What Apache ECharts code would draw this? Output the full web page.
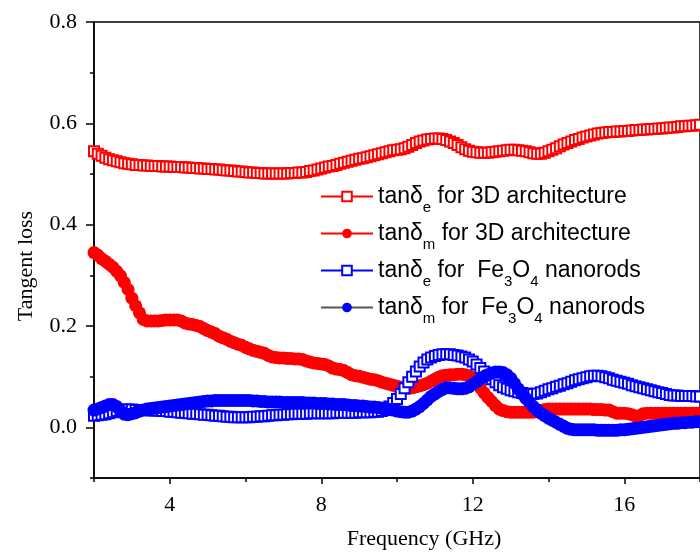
<!DOCTYPE html>
<html>
<head>
<meta charset="utf-8">
<script src="https://cdn.jsdelivr.net/npm/echarts@6/dist/echarts.min.js"></script>
<style>
  html, body { margin: 0; padding: 0; background: #fff; }
  #chart { width: 700px; height: 555px; }
</style>
</head>
<body>
<div id="chart"></div>
<script>
// frequency sampling grid, 2 - 18 GHz in 0.1 GHz steps
const freq = Array.from({ length: 161 }, (_, i) => +(2 + i * 0.1).toFixed(1));

// tan(delta_e) for 3D architecture
const tanE3D = [
  0.545, 0.540, 0.536, 0.532, 0.529, 0.527, 0.525, 0.523, 0.521, 0.520,
  0.519, 0.518, 0.518, 0.517, 0.517, 0.516, 0.516, 0.516, 0.515, 0.515,
  0.515, 0.514, 0.514, 0.514, 0.513, 0.513, 0.512, 0.512, 0.511, 0.511,
  0.510, 0.510, 0.509, 0.509, 0.508, 0.507, 0.507, 0.506, 0.505, 0.505,
  0.504, 0.503, 0.503, 0.502, 0.502, 0.501, 0.501, 0.501, 0.501, 0.501,
  0.501, 0.501, 0.502, 0.502, 0.503, 0.503, 0.504, 0.506, 0.507, 0.509,
  0.511, 0.513, 0.515, 0.516, 0.518, 0.520, 0.522, 0.524, 0.526, 0.528,
  0.530, 0.531, 0.533, 0.535, 0.537, 0.539, 0.541, 0.543, 0.545, 0.547,
  0.548, 0.549, 0.551, 0.554, 0.557, 0.561, 0.564, 0.566, 0.568, 0.569,
  0.570, 0.570, 0.569, 0.567, 0.564, 0.561, 0.557, 0.553, 0.549, 0.546,
  0.544, 0.543, 0.542, 0.542, 0.542, 0.543, 0.544, 0.545, 0.546, 0.547,
  0.548, 0.548, 0.547, 0.546, 0.545, 0.543, 0.541, 0.540, 0.540, 0.542,
  0.545, 0.548, 0.551, 0.555, 0.558, 0.561, 0.564, 0.567, 0.569, 0.572,
  0.574, 0.576, 0.578, 0.580, 0.581, 0.582, 0.583, 0.583, 0.584, 0.584,
  0.585, 0.585, 0.586, 0.587, 0.587, 0.588, 0.588, 0.589, 0.589, 0.590,
  0.590, 0.591, 0.592, 0.592, 0.593, 0.594, 0.594, 0.595, 0.595, 0.596,
  0.597
];

// tan(delta_m) for 3D architecture
const tanM3D = [
  0.345, 0.340, 0.333, 0.328, 0.322, 0.316, 0.308, 0.299, 0.286, 0.272,
  0.255, 0.240, 0.226, 0.213, 0.210, 0.210, 0.210, 0.210, 0.211, 0.212,
  0.212, 0.212, 0.212, 0.210, 0.206, 0.204, 0.203, 0.201, 0.199, 0.195,
  0.191, 0.188, 0.185, 0.180, 0.177, 0.174, 0.170, 0.167, 0.164, 0.162,
  0.158, 0.155, 0.152, 0.150, 0.148, 0.146, 0.142, 0.139, 0.138, 0.137,
  0.137, 0.136, 0.136, 0.135, 0.135, 0.134, 0.131, 0.129, 0.127, 0.126,
  0.125, 0.124, 0.121, 0.117, 0.115, 0.114, 0.112, 0.108, 0.104, 0.102,
  0.101, 0.099, 0.097, 0.095, 0.094, 0.092, 0.089, 0.087, 0.085, 0.083,
  0.081, 0.079, 0.077, 0.077, 0.078, 0.080, 0.082, 0.084, 0.087, 0.091,
  0.095, 0.099, 0.102, 0.103, 0.104, 0.104, 0.105, 0.105, 0.104, 0.102,
  0.096, 0.088, 0.078, 0.068, 0.059, 0.051, 0.043, 0.036, 0.033, 0.031,
  0.030, 0.030, 0.030, 0.030, 0.030, 0.030, 0.030, 0.031, 0.033, 0.035,
  0.036, 0.036, 0.036, 0.036, 0.036, 0.036, 0.036, 0.036, 0.036, 0.036,
  0.036, 0.036, 0.035, 0.035, 0.035, 0.034, 0.034, 0.031, 0.028, 0.028,
  0.028, 0.027, 0.025, 0.022, 0.023, 0.027, 0.028, 0.028, 0.028, 0.028,
  0.028, 0.028, 0.028, 0.028, 0.028, 0.028, 0.028, 0.028, 0.028, 0.028,
  0.028
];

// tan(delta_e) for Fe3O4 nanorods
const tanEFe = [
  0.023, 0.024, 0.025, 0.026, 0.028, 0.030, 0.032, 0.034, 0.035, 0.035,
  0.035, 0.034, 0.034, 0.034, 0.034, 0.033, 0.033, 0.033, 0.032, 0.032,
  0.031, 0.031, 0.030, 0.029, 0.029, 0.028, 0.027, 0.027, 0.026, 0.025,
  0.025, 0.024, 0.023, 0.023, 0.022, 0.021, 0.021, 0.020, 0.020, 0.020,
  0.020, 0.020, 0.021, 0.021, 0.022, 0.022, 0.023, 0.024, 0.024, 0.025,
  0.025, 0.026, 0.026, 0.027, 0.027, 0.027, 0.027, 0.028, 0.028, 0.028,
  0.028, 0.028, 0.028, 0.028, 0.029, 0.029, 0.029, 0.029, 0.029, 0.029,
  0.030, 0.030, 0.030, 0.030, 0.031, 0.031, 0.032, 0.035, 0.041, 0.048,
  0.056, 0.066, 0.077, 0.089, 0.100, 0.110, 0.120, 0.128, 0.134, 0.138,
  0.141, 0.143, 0.144, 0.144, 0.144, 0.143, 0.142, 0.140, 0.138, 0.134,
  0.130, 0.124, 0.117, 0.110, 0.102, 0.095, 0.089, 0.083, 0.079, 0.076,
  0.073, 0.071, 0.069, 0.068, 0.067, 0.066, 0.066, 0.067, 0.069, 0.072,
  0.075, 0.077, 0.080, 0.082, 0.085, 0.087, 0.090, 0.093, 0.095, 0.097,
  0.099, 0.101, 0.102, 0.102, 0.101, 0.099, 0.097, 0.094, 0.092, 0.090,
  0.088, 0.086, 0.083, 0.081, 0.079, 0.077, 0.075, 0.073, 0.071, 0.069,
  0.068, 0.066, 0.064, 0.063, 0.063, 0.062, 0.062, 0.062, 0.062, 0.061,
  0.061
];

// tan(delta_m) for Fe3O4 nanorods
const tanMFe = [
  0.034, 0.036, 0.039, 0.042, 0.045, 0.045, 0.041, 0.033, 0.026, 0.025,
  0.027, 0.029, 0.032, 0.034, 0.036, 0.037, 0.038, 0.039, 0.040, 0.041,
  0.042, 0.043, 0.044, 0.045, 0.046, 0.047, 0.048, 0.049, 0.050, 0.051,
  0.052, 0.052, 0.053, 0.053, 0.053, 0.053, 0.053, 0.053, 0.053, 0.053,
  0.053, 0.053, 0.052, 0.052, 0.051, 0.051, 0.050, 0.050, 0.050, 0.050,
  0.049, 0.049, 0.049, 0.049, 0.049, 0.049, 0.048, 0.048, 0.048, 0.047,
  0.047, 0.047, 0.046, 0.046, 0.045, 0.045, 0.045, 0.044, 0.043, 0.043,
  0.042, 0.042, 0.041, 0.040, 0.040, 0.039, 0.038, 0.037, 0.035, 0.034,
  0.032, 0.031, 0.030, 0.030, 0.032, 0.036, 0.041, 0.047, 0.054, 0.061,
  0.066, 0.071, 0.075, 0.078, 0.078, 0.077, 0.076, 0.076, 0.077, 0.080,
  0.085, 0.090, 0.095, 0.100, 0.104, 0.107, 0.109, 0.109, 0.108, 0.104,
  0.097, 0.087, 0.076, 0.066, 0.057, 0.049, 0.041, 0.034, 0.028, 0.023,
  0.018, 0.014, 0.010, 0.006, 0.002, -0.002, -0.004, -0.005, -0.005, -0.005,
  -0.005, -0.005, -0.005, -0.006, -0.006, -0.006, -0.006, -0.006, -0.006, -0.005,
  -0.005, -0.004, -0.003, -0.002, -0.001, 0.000, 0.001, 0.002, 0.003, 0.004,
  0.005, 0.006, 0.007, 0.008, 0.008, 0.009, 0.009, 0.010, 0.010, 0.011,
  0.011
];

const xMajor = [4, 8, 12, 16];
const xMinor = [2, 6, 10, 14, 18];
const yMajor = [0, 0.2, 0.4, 0.6, 0.8];
const yMinor = [-0.1, 0.1, 0.3, 0.5, 0.7];

const legendNames = [
  '{t|tan\u03b4}{s|e}{t| for 3D architecture}',
  '{t|tan\u03b4}{s|m}{t| for 3D architecture}',
  '{t|tan\u03b4}{s|e}{t| for  Fe}{s|3}{t|O}{s|4}{t| nanorods}',
  '{t|tan\u03b4}{s|m}{t| for  Fe}{s|3}{t|O}{s|4}{t| nanorods}'
];

const pairs = ys => freq.map((f, i) => [f, ys[i]]);

const serif = 'Liberation Serif';
const sans = 'Liberation Sans';

const chart = echarts.init(document.getElementById('chart'));

const axisLineStyle = { color: '#000', width: 1.5 };

chart.setOption({
  animation: false,
  backgroundColor: '#fff',
  grid: {
    left: 94, top: 22, width: 613, height: 457,
    show: true, borderColor: '#000', borderWidth: 1.5
  },
  legend: {
    orient: 'vertical',
    left: 320,
    top: 185,
    padding: 0,
    itemWidth: 52,
    itemHeight: 12,
    itemGap: 7,
    data: legendNames,
    textStyle: {
      color: '#000',
      rich: {
        t: { fontFamily: sans, fontSize: 23, color: '#000', lineHeight: 37, verticalAlign: 'middle' },
        s: { fontFamily: sans, fontSize: 15, color: '#000', lineHeight: 16, verticalAlign: 'bottom' }
      }
    }
  },
  xAxis: [
    {
      type: 'value', min: 2, max: 18, interval: 2,
      name: 'Frequency (GHz)', nameLocation: 'middle', nameGap: 50,
      nameTextStyle: { fontFamily: serif, fontSize: 22, color: '#000', padding: [0, 0, 0, 54] },
      axisLine: { onZero: false, lineStyle: axisLineStyle },
      axisTick: { customValues: xMajor, length: 6, lineStyle: axisLineStyle },
      axisLabel: { customValues: xMajor, margin: 16, fontFamily: serif, fontSize: 22, color: '#000' },
      splitLine: { show: false }
    },
    {
      type: 'value', min: 2, max: 18, interval: 2, position: 'bottom',
      axisLine: { show: false, onZero: false },
      axisTick: { customValues: xMinor, length: 4, lineStyle: axisLineStyle },
      axisLabel: { show: false },
      splitLine: { show: false }
    }
  ],
  yAxis: [
    {
      type: 'value', min: -0.1, max: 0.8, interval: 0.1,
      name: 'Tangent loss', nameLocation: 'middle', nameGap: 57,
      nameTextStyle: { fontFamily: serif, fontSize: 22, color: '#000', padding: [0, 32, 0, 0] },
      axisLine: { onZero: false, lineStyle: axisLineStyle },
      axisTick: { customValues: yMajor, length: 8, lineStyle: axisLineStyle },
      axisLabel: {
        customValues: yMajor, margin: 17, fontFamily: serif, fontSize: 22, color: '#000',
        formatter: v => v.toFixed(1)
      },
      splitLine: { show: false }
    },
    {
      type: 'value', min: -0.1, max: 0.8, interval: 0.1, position: 'left',
      axisLine: { show: false, onZero: false },
      axisTick: { customValues: yMinor, length: 4, lineStyle: axisLineStyle },
      axisLabel: { show: false },
      splitLine: { show: false }
    }
  ],
  series: [
    {
      name: legendNames[0], type: 'line', data: pairs(tanE3D),
      symbol: 'emptyRect', symbolSize: 10, showAllSymbol: true,
      itemStyle: { color: '#ff0000', borderWidth: 1 },
      lineStyle: { color: '#ff0000', width: 1 }
    },
    {
      name: legendNames[1], type: 'line', data: pairs(tanM3D),
      symbol: 'circle', symbolSize: 13, showAllSymbol: true,
      itemStyle: { color: '#ff0000' },
      lineStyle: { color: '#ff0000', width: 1 }
    },
    {
      name: legendNames[2], type: 'line', data: pairs(tanEFe),
      symbol: 'emptyRect', symbolSize: 10, showAllSymbol: true,
      itemStyle: { color: '#0000ff', borderWidth: 1 },
      lineStyle: { color: '#0000ff', width: 1 }
    },
    {
      name: legendNames[3], type: 'line', data: pairs(tanMFe),
      symbol: 'circle', symbolSize: 13, showAllSymbol: true,
      itemStyle: { color: '#0000ff' },
      lineStyle: { color: '#555555', width: 1 }
    }
  ]
});
</script>
</body>
</html>
